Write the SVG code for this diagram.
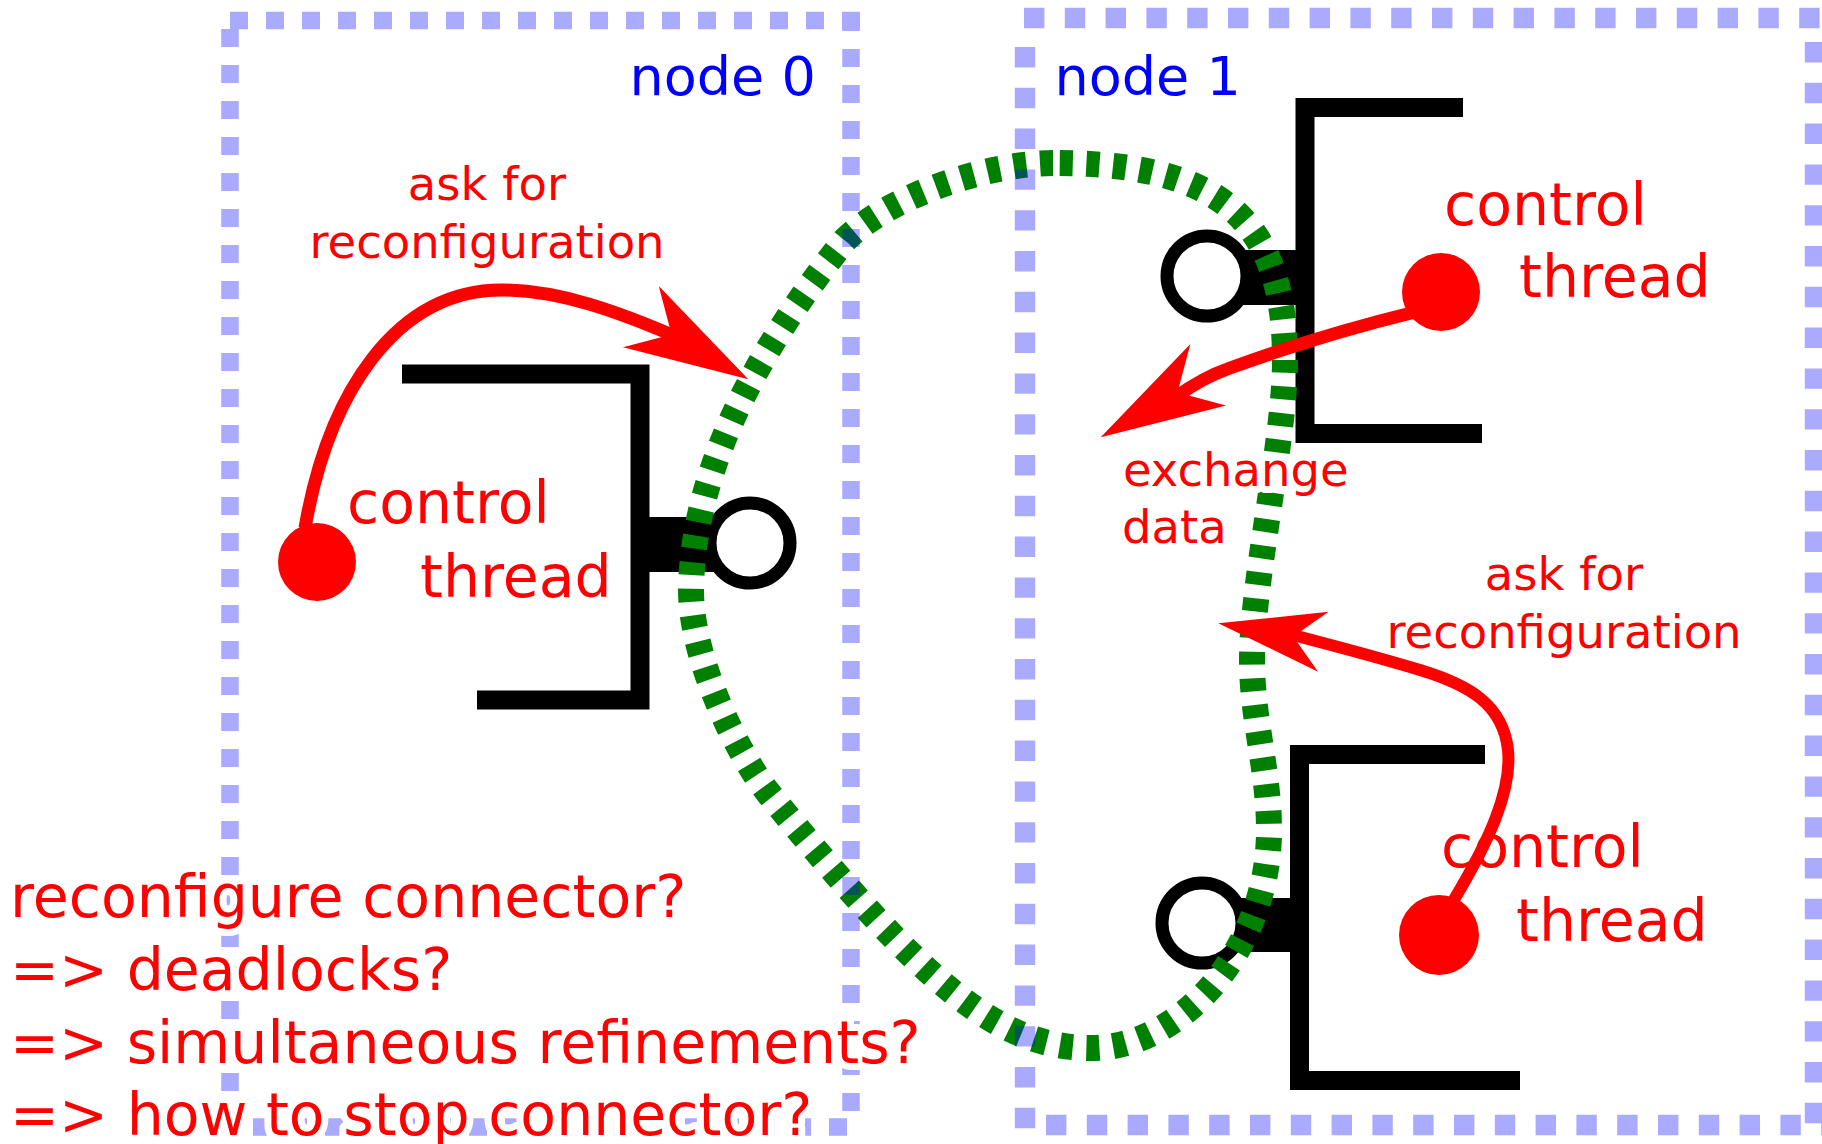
<svg xmlns="http://www.w3.org/2000/svg" xmlns:xlink="http://www.w3.org/1999/xlink" width="1822" height="1144" viewBox="0 0 1822 1144">
  <style>
    text { font-family: "DejaVu Sans", "Liberation Sans", sans-serif; }
    .red { fill: #ff0000; }
    .blue { fill: #0000ff; }
    .halo { stroke: #ffffff; stroke-width: 14; stroke-linejoin: round; paint-order: stroke; }
    .bracket { fill: none; stroke: #000000; stroke-width: 19; stroke-linejoin: miter; }
    .port { fill: #ffffff; stroke: #000000; stroke-width: 13; }
    .box0 { fill: none; stroke: #0000ff; stroke-width: 17.5; stroke-dasharray: 18 18; }
    .box1 { fill: none; stroke: #0000ff; stroke-width: 20.4; stroke-dasharray: 20.4 20.4; }
    .flow { fill: none; stroke: #ff0000; stroke-width: 13; }
    .channel { fill: none; stroke: #008000; stroke-width: 26; stroke-dasharray: 13 13.7; }
  </style>
  <defs>
    <!-- arrow head, tip at origin, pointing along +x -->
    <path id="arrowhead" d="M0,0 L-124.4,-35.5 L-88.9,0 L-124.4,35.5 Z" fill="#ff0000"/>
  </defs>

  <rect width="1822" height="1144" fill="#ffffff"/>

  <!-- components -->
  <g id="component-0">
    <path class="bracket" d="M402,374 H640 V700 H477"/>
    <rect x="640" y="517" width="80" height="55" fill="#000000"/>
    <circle class="port" cx="750" cy="543" r="40"/>
  </g>
  <g id="component-1-top">
    <path class="bracket" d="M1463,107.5 H1305 V433.5 H1482"/>
    <rect x="1235" y="250" width="72" height="55" fill="#000000"/>
    <circle class="port" cx="1207" cy="276" r="40"/>
  </g>
  <g id="component-1-bottom">
    <path class="bracket" d="M1485,754.5 H1299.5 V1080.5 H1520"/>
    <rect x="1230" y="898" width="72" height="54" fill="#000000"/>
    <circle class="port" cx="1202" cy="923" r="40"/>
  </g>

  <!-- connectors -->
  <g id="connectors">
    <path id="shared-connector" class="channel" d="M1053,163 C990,163 890,195 845,240 C782,318 693,450 691,590 C691,660 738.5,756 770,795 C927.5,989 1000,1048 1092,1048 C1180,1048 1269,950 1269,830 C1269,770 1252,720 1252,660 C1252,580 1285,440 1285,360 C1285,215 1215,163 1053,163 Z"/>
    <path class="flow" d="M305,528 C328,395 395,288 505,290 C560,291 615,310 684,340"/>
    <use href="#arrowhead" transform="translate(748.3,379.3) rotate(30.27)"/>
    <path class="flow" d="M1415,312 C1350,328 1290,346 1230,368 C1210,375 1195,383 1176,397"/>
    <use href="#arrowhead" transform="translate(1100.7,437.3) rotate(149.8)"/>
    <path class="flow" style="stroke-width:12" d="M1452,903 C1490,840 1512,790 1508,750 C1503,705 1470,685 1420,670 C1370,655 1320,642 1285,633"/>
    <use href="#arrowhead" transform="translate(1218.3,623.3) rotate(189.94) scale(0.857)"/>
  </g>

  <!-- control threads -->
  <g id="control-thread-0">
    <circle cx="317" cy="562" r="39" fill="#ff0000"/>
    <text class="red" font-size="58.5" x="347" y="523">control</text>
    <text class="red" font-size="58.5" x="420" y="597">thread</text>
  </g>
  <g id="control-thread-1-top">
    <circle cx="1441" cy="292" r="39" fill="#ff0000"/>
    <text class="red" font-size="58.5" x="1444" y="225">control</text>
    <text class="red" font-size="58.5" x="1519" y="297">thread</text>
  </g>
  <g id="control-thread-1-bottom">
    <circle cx="1439" cy="935" r="40" fill="#ff0000"/>
    <text class="red" font-size="58.5" x="1441" y="867">control</text>
    <text class="red" font-size="58.5" x="1516" y="941">thread</text>
  </g>

  <!-- nodes -->
  <g id="node0">
    <g opacity="0.333">
      <path class="box0" d="M230,20.5 H860"/>
      <path class="box0" d="M851,13 V1118"/>
      <path class="box0" d="M217,1127 H847"/>
      <path class="box0" d="M230,29 V1127"/>
    </g>
    <text class="blue" font-size="54" x="629.5" y="95">node 0</text>
  </g>
  <g id="node1">
    <g opacity="0.333">
      <path class="box1" d="M1024,18 H1830"/>
      <path class="box1" d="M1025,47 V1135"/>
      <path class="box1" d="M1046,1125 H1822"/>
      <path class="box1" d="M1815,42 V1135"/>
    </g>
    <text class="blue" font-size="54" x="1054.5" y="95">node 1</text>
  </g>

  <!-- annotations -->
  <g id="labels">
    <text class="red" font-size="46.5" text-anchor="middle" x="487" y="200">ask for</text>
    <text class="red" font-size="46.5" text-anchor="middle" x="487" y="258">reconfiguration</text>
    <text class="red" font-size="46.5" text-anchor="middle" x="1564" y="590">ask for</text>
    <text class="red" font-size="46.5" text-anchor="middle" x="1564" y="648">reconfiguration</text>
    <text class="red halo" font-size="46.5" x="1123" y="486">exchange</text>
    <text class="red halo" font-size="46.5" x="1122" y="543">data</text>
    <text class="red halo" font-size="58.5" x="10" y="917">reconfigure connector?</text>
    <text class="red halo" font-size="58.5" x="10" y="990">=&gt; deadlocks?</text>
    <text class="red halo" font-size="58.5" x="10" y="1063">=&gt; simultaneous refinements?</text>
    <text class="red halo" font-size="58.5" x="10" y="1135">=&gt; how to stop connector?</text>
  </g>
</svg>
